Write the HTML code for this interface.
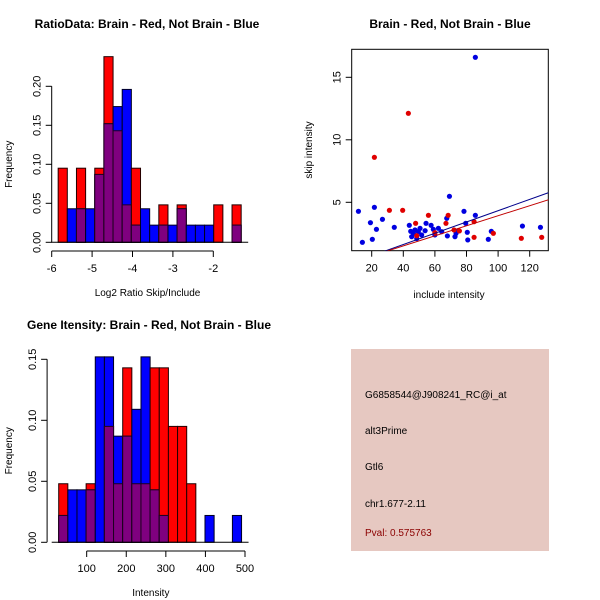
<!DOCTYPE html>
<html><head><meta charset="utf-8"><style>
body{margin:0;background:#fff;}
svg{display:block;font-family:"Liberation Sans",sans-serif;}
</style></head><body>
<svg id="c" width="600" height="600" viewBox="0 0 600 600">
<rect width="600" height="600" fill="#fff"/>
</svg>
<script>
// ---- Data: ratio histogram ----
const ratioBinStart = -5.84;
const ratioBinWidth = 0.2265;
const ratioRed  = [0.095,0,0.095,0,0.095,0.238,0.143,0.048,0.095,0,0,0.048,0,0.048,0,0,0,0.048,0,0.048];
const ratioBlue = [0,0.043,0.043,0.043,0.087,0.152,0.174,0.196,0.022,0.043,0.022,0.022,0.022,0.043,0.022,0.022,0.022,0,0,0.022];
const ratioXTicks = [-6,-5,-4,-3,-2];
const ratioYTicks = [0,0.05,0.10,0.15,0.20];
const ratioYLabels = ["0.00","0.05","0.10","0.15","0.20"];
// ---- Data: intensity histogram ----
const intBinStart = 29.3;
const intBinWidth = 23.1;
const intRed  = [0.048,0,0,0.048,0,0.095,0.048,0.143,0.048,0.048,0.143,0.143,0.095,0.095,0.048,0,0,0,0,0];
const intBlue = [0.022,0.043,0.043,0.043,0.152,0.152,0.087,0.087,0.109,0.152,0.043,0.022,0,0,0,0,0.022,0,0,0.022];
const intXTicks = [100,200,300,400,500];
const intYTicks = [0,0.05,0.10,0.15];
const intYLabels = ["0.00","0.05","0.10","0.15"];
// ---- Data: scatter ----
const blueX = [11.6,14.1,19.2,20.4,21.7,23,26.8,34.3,43.8,44.7,45.3,46.4,47.4,48.5,49.5,50.6,51.6,53.8,54.4,57.6,59,60,62.2,64.3,67.5,67.9,69.2,72.7,73.4,74.9,78.4,79.5,80.5,80.8,85.6,85.6,93.8,95.7,115.4,126.8];
const blueY = [4.28,1.8,3.37,2.04,4.6,2.84,3.64,3.0,3.16,2.68,2.25,2.52,2.79,2.1,2.65,2.92,2.39,2.73,3.32,3.16,2.84,2.39,2.92,2.65,3.72,2.31,5.48,2.25,2.52,2.73,4.28,3.32,2.6,1.99,3.96,16.6,2.04,2.68,3.1,3.0];
const redX = [31.2,39.6,43.2,21.7,47.8,48.5,55.9,60,67,68.4,72.1,75.5,84.8,84.8,97,114.7,127.6];
const redY = [4.36,4.36,12.12,8.6,3.32,2.33,3.96,2.57,3.32,3.96,2.79,2.71,3.45,2.2,2.52,2.12,2.2];
const blueFit = [-0.18,0.0451]; // intercept, slope
const redFit = [-0.096,0.0402];
const scXTicks = [20,40,60,80,100,120];
const scYTicks = [5,10,15];

const svg = document.getElementById('c');
const NS = 'http://www.w3.org/2000/svg';
function el(tag, attrs, parent){ const e=document.createElementNS(NS,tag); for(const k in attrs) e.setAttribute(k,attrs[k]); (parent||svg).appendChild(e); return e; }
function txt(x,y,s,attrs,parent){ const t=el('text',Object.assign({x:x,y:y},attrs),parent); t.textContent=s; return t; }

function histogram(name, binStart, binW, red, blue, xs, ys, yl, ox, oy, xTicks, yTicks, yLabels, title, xlab, titleX, titleY, tickY0){
  const g = el('g',{});
  
  
  const sx = v => ox + (v - xs[0]) * xs[1];
  const sy = v => oy - v * ys;
  for(let i=0;i<red.length;i++){
    const x0 = sx(binStart + i*binW), x1 = sx(binStart+(i+1)*binW);
    const r = red[i], b = blue[i], m = Math.min(r,b);
    if(r>0){ const e=el('rect',{x:x0,y:sy(r),width:x1-x0,height:sy(0)-sy(r),fill:'#ff0000',stroke:'#200',"stroke-width":1},g);
        }
    if(b>0){ const e=el('rect',{x:x0,y:sy(b),width:x1-x0,height:sy(0)-sy(b),fill:'#0000ff',stroke:'#002',"stroke-width":1},g);
        }
    if(m>0){ const e=el('rect',{x:x0,y:sy(m),width:x1-x0,height:sy(0)-sy(m),fill:'#7f007f',stroke:'#200020',"stroke-width":1},g);
        }
  }
  const xa = el('g',{},g);
   
  el('line',{x1:sx(xTicks[0]),x2:sx(xTicks[xTicks.length-1]),y1:tickY0,y2:tickY0,stroke:'#000'},xa);
  xTicks.forEach(t=>{ el('line',{x1:sx(t),x2:sx(t),y1:tickY0,y2:tickY0+6,stroke:'#000'},xa);
    const l=txt(sx(t),tickY0+21,String(t),{"font-size":11,"text-anchor":"middle"},xa);
      });
  const ya = el('g',{},g);
   
  el('line',{x1:ox,x2:ox,y1:sy(yTicks[0]),y2:sy(yTicks[yTicks.length-1]),stroke:'#000'},ya);
  yTicks.forEach((t,i)=>{ el('line',{x1:ox,x2:ox-6,y1:sy(t),y2:sy(t),stroke:'#000'},ya);
    const l=txt(0,0,yLabels[i],{"font-size":11,"text-anchor":"middle",transform:`translate(${ox-11},${sy(t)}) rotate(-90)`},ya);
      });
  el('line',{x1:sx(binStart)-7,x2:sx(binStart+red.length*binW)+7,y1:oy,y2:oy,stroke:'#000'},g);
  const tt=txt(titleX,titleY,title,{"font-size":12,"font-weight":"bold","text-anchor":"middle"},g);
   
  const xl=txt(sx((xTicks[0]+xTicks[xTicks.length-1])/2)+ (name==='ratio-histogram'?15:-15),tickY0+45,xlab,{"font-size":10,"text-anchor":"middle"},g);
   
  const yt=txt(0,0,'Frequency',{"font-size":10,"text-anchor":"middle",transform:`translate(12,${(sy(yTicks[0])+sy(yTicks[yTicks.length-1]))/2}) rotate(-90)`},g);
   
}

histogram('ratio-histogram', ratioBinStart, ratioBinWidth, ratioRed, ratioBlue, [-6,40.4], 780, 0, 51.7, 242.3,
  ratioXTicks, ratioYTicks, ratioYLabels, 'RatioData: Brain - Red, Not Brain - Blue', 'Log2 Ratio Skip/Include', 147, 28, 251);
histogram('intensity-histogram', intBinStart, intBinWidth, intRed, intBlue, [0,0.3958], 1220, 0, 47.1, 542.3,
  intXTicks, intYTicks, intYLabels, 'Gene Itensity: Brain - Red, Not Brain - Blue', 'Intensity', 149, 329, 551);

// ---- Scatter ----
(function(){
  const g = el('g',{});
  
  
  const sx = v => 371.7 + (v-20)*1.58;
  const sy = v => 202.3 - (v-5)*12.5;
  const L=351.7,R=548.3,T=49.3,B=250.7;
  const clip = el('clipPath',{id:'scClip'},g);
  el('rect',{x:L,y:T,width:R-L,height:B-T},clip);
  const box=el('rect',{x:L,y:T,width:R-L,height:B-T,fill:'none',stroke:'#000'},g);
   
  const xa=el('g',{},g);  
  scXTicks.forEach(t=>{ el('line',{x1:sx(t),x2:sx(t),y1:B,y2:B+6,stroke:'#000'},xa);
    const l=txt(sx(t),B+21,String(t),{"font-size":11,"text-anchor":"middle"},xa);
      });
  const ya=el('g',{},g);  
  scYTicks.forEach(t=>{ el('line',{x1:L,x2:L-6,y1:sy(t),y2:sy(t),stroke:'#000'},ya);
    const l=txt(0,0,String(t),{"font-size":11,"text-anchor":"middle",transform:`translate(${L-11},${sy(t)}) rotate(-90)`},ya);
      });
  const pts=el('g',{"clip-path":"url(#scClip)"},g);
  blueX.forEach((x,i)=>{ const c=el('circle',{cx:sx(x),cy:sy(blueY[i]),r:2.6,fill:'#0000e0'},pts);
      });
  redX.forEach((x,i)=>{ const c=el('circle',{cx:sx(x),cy:sy(redY[i]),r:2.6,fill:'#e00000'},pts);
      });
  const x0=0,x1=140;
  const bl=el('line',{x1:sx(x0),y1:sy(blueFit[0]+blueFit[1]*x0),x2:sx(x1),y2:sy(blueFit[0]+blueFit[1]*x1),stroke:'#00008b',"stroke-width":1},pts);
   
  const rl=el('line',{x1:sx(x0),y1:sy(redFit[0]+redFit[1]*x0),x2:sx(x1),y2:sy(redFit[0]+redFit[1]*x1),stroke:'#c00000',"stroke-width":1},pts);
   
  const tt=txt(450,28,'Brain - Red, Not Brain - Blue',{"font-size":12,"font-weight":"bold","text-anchor":"middle"},g);
   
  const xl=txt(449,298,'include intensity',{"font-size":10,"text-anchor":"middle"},g);
   
  const yl=txt(0,0,'skip intensity',{"font-size":10,"text-anchor":"middle",transform:'translate(312,150) rotate(-90)'},g);
   
})();

// ---- Info panel ----
(function(){
  const g=el('g',{});
  
  
  el('rect',{x:351,y:349,width:198,height:202,fill:'#e6c8c1'},g);
  const lines=[['G6858544@J908241_RC@i_at',398,'#000','probe-id'],['alt3Prime',434,'#000','event-type'],['Gtl6',470,'#000','gene-name'],['chr1.677-2.11',507,'#000','location'],['Pval: 0.575763',536,'#8b0000','p-value']];
  lines.forEach(l=>{ const t=txt(365,l[1],l[0],{"font-size":10,fill:l[2]},g);
      });
})();
</script>
</body></html>
